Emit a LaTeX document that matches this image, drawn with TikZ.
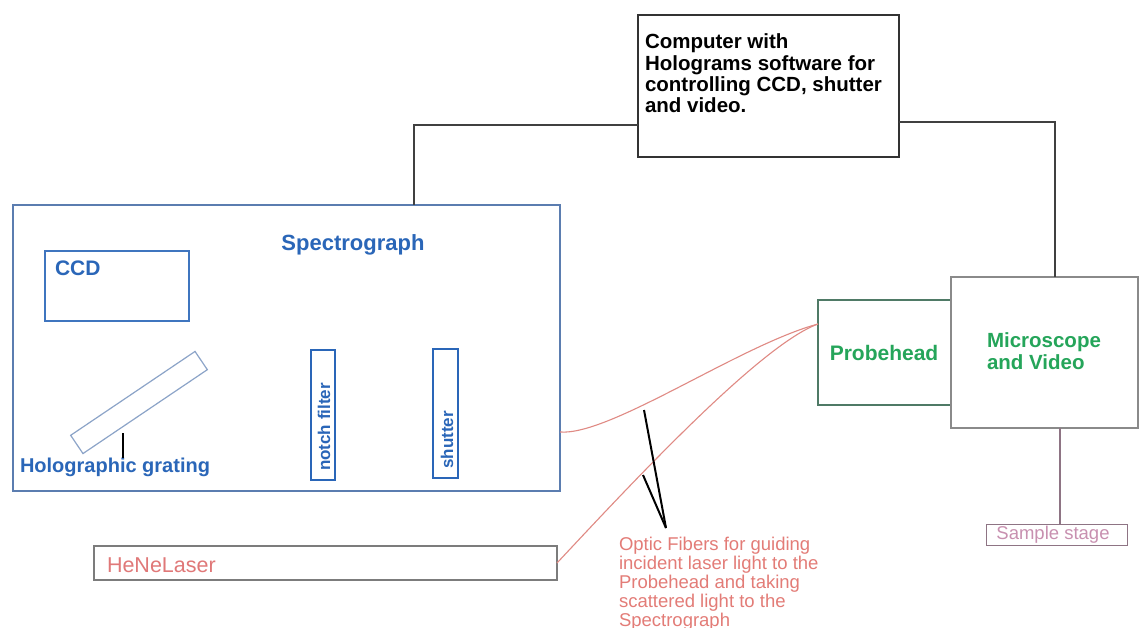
\documentclass[tikz,border=0pt]{standalone}
\usepackage{fontspec}
\setmainfont{Liberation Sans}
\definecolor{specblue}{HTML}{5B7DB0}
\definecolor{txtblue}{HTML}{2A66B8}
\definecolor{txtgreen}{HTML}{25A55A}
\definecolor{probeline}{HTML}{4F7A66}
\definecolor{fiberred}{HTML}{E08A84}
\definecolor{txtred}{HTML}{E07878}
\definecolor{stagepink}{HTML}{C890B0}
\definecolor{stageline}{HTML}{8E7484}
\definecolor{boxgray}{HTML}{8A8A8A}
\tikzset{
  box/.style={draw, rectangle, inner sep=0pt, outer sep=0pt, anchor=north west, line width=1.2pt},
  lbl/.style={inner sep=0pt, outer sep=0pt},
  wire/.style={draw=black!75, line width=1.3pt},
  fiber/.style={draw=fiberred, line width=1.1pt},
  pointer/.style={draw=black, line width=2pt},
}
\begin{document}
\begin{tikzpicture}[x=1pt,y=-1pt]
\useasboundingbox[fill=white] (0,0) rectangle (1139,628);

% computer
\node[box, draw=black!80, minimum width=261, minimum height=142] (comp) at (638,15) {};
\node[lbl, anchor=north west, align=left, font=\fontsize{20.5}{21.3}\selectfont\bfseries] (comptxt) at (645,34)
  {Computer with\\Holograms software for\\controlling CCD, shutter\\and video.};

% spectrograph
\node[box, draw=specblue, minimum width=547, minimum height=286] (spec) at (13,205) {};
\node[lbl, text=txtblue, font=\fontsize{22}{24}\selectfont\bfseries] (spectxt) at (353,245) {Spectrograph};

\node[box, draw=txtblue!90, minimum width=144, minimum height=70] (ccd) at (45,251) {};
\node[lbl, anchor=west, text=txtblue, font=\fontsize{21}{23}\selectfont\bfseries] (ccdtxt) at (55,268) {CCD};

\node[draw=specblue!70, line width=1.2pt, rectangle, inner sep=0pt, minimum width=150, minimum height=22, rotate=34] (grating) at (139,402.5) {};
\node[lbl, text=txtblue, font=\fontsize{20}{22}\selectfont\bfseries] (gratetxt) at (115,467) {Holographic grating};
\draw[pointer, line width=1.5pt] (gratetxt.north -| 123,0) -- (123,433);

\node[box, draw=txtblue, minimum width=24, minimum height=130] (notch) at (311,350) {};
\node[lbl, rotate=90, text=txtblue, font=\fontsize{17}{19}\selectfont\bfseries] (notchtxt) at (324,427) {notch filter};
\node[box, draw=txtblue, minimum width=25, minimum height=129] (shut) at (433,349) {};
\node[lbl, rotate=90, text=txtblue, font=\fontsize{17}{19}\selectfont\bfseries] (shuttxt) at (447,440) {shutter};

% probehead and microscope
\node[box, draw=probeline, minimum width=133, minimum height=105] (probe) at (818,300) {};
\node[lbl, text=txtgreen, font=\fontsize{21}{23}\selectfont\bfseries] (probetxt) at (884,353) {Probehead};
\node[box, draw=boxgray, minimum width=187, minimum height=151] (micro) at (951,277) {};
\node[lbl, anchor=north west, align=left, text=txtgreen, font=\fontsize{20.5}{22}\selectfont\bfseries] (microtxt) at (987,333) {Microscope\\and Video};

% sample stage
\node[box, draw=stageline, line width=1pt, minimum width=141, minimum height=21] (stage) at (986,524) {};
\node[lbl, text=stagepink, font=\fontsize{18.5}{20}\selectfont] (stagetxt) at (1053,534.5) {Sample stage};

% laser
\node[box, draw=boxgray!90!black, minimum width=463, minimum height=34] (laser) at (94,546) {};
\node[lbl, anchor=west, text=txtred, font=\fontsize{21.5}{23}\selectfont] (lasertxt) at (107,565) {HeNeLaser};

% wires
\draw[wire] (comp.west |- 0,125) -| (spec.north -| 414,0);
\draw[wire] (comp.east |- 0,122) -| (micro.north -| 1055,0);
\draw[draw=stageline, line width=1.2pt] (micro.south -| 1060,0) -- (stage.north -| 1060,0);

% fibers
\draw[fiber] (spec.east |- 0,432) .. controls (610,436) and (740,345) .. (probe.west |- 0,324);
\draw[fiber] (laser.east) .. controls (630,485) and (760,345) .. (probe.west |- 0,324);

% pointer
\coordinate (ptr) at (666,528);
\coordinate (ptrA) at (644,410);
\coordinate (ptrB) at (643,475);
\draw[pointer] (ptr) -- (ptrA);
\draw[pointer] (ptr) -- (ptrB);
\node[lbl, anchor=north west, align=left, text=fiberred!90!red, font=\fontsize{18.5}{19}\selectfont] (fibertxt) at (619,537)
  {Optic Fibers for guiding\\incident laser light to the\\Probehead and taking\\scattered light to the\\Spectrograph};
\end{tikzpicture}
\end{document}
